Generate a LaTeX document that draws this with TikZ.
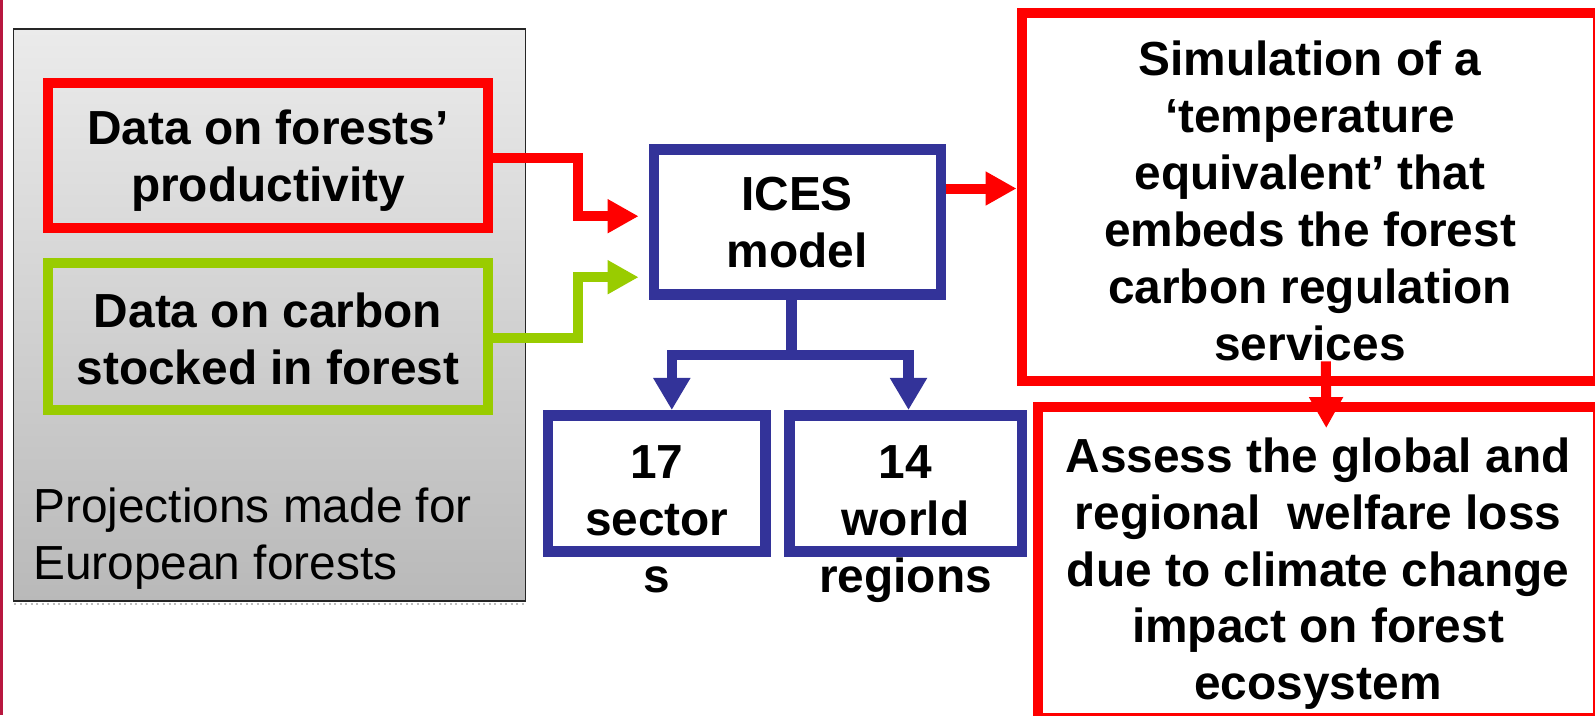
\documentclass[tikz,border=0pt]{standalone}
\usepackage{fontspec}
\setmainfont{Liberation Sans}
\usepackage{tikz}
\usetikzlibrary{arrows.meta,calc}
\definecolor{wfred}{HTML}{FF0000}
\definecolor{wfgreen}{HTML}{99CC00}
\definecolor{wfblue}{HTML}{333399}
\definecolor{wfcrimson}{HTML}{B8173F}
\definecolor{wfpanetop}{HTML}{EBEBEB}
\definecolor{wfpanebot}{HTML}{B9B9B9}
\tikzset{
  box/.style      ={rectangle, line width=1mm, inner sep=0pt},
  redbox/.style   ={box, draw=wfred},
  greenbox/.style ={box, draw=wfgreen},
  bluebox/.style  ={box, draw=wfblue, line width=1.05mm, fill=white},
  pane/.style     ={rectangle, inner sep=0pt, draw=black!85, line width=0.4pt,
                    top color=wfpanetop, bottom color=wfpanebot},
  boldtxt/.style  ={font=\fontsize{13.6}{16.2}\selectfont\bfseries, align=center,
                    inner sep=0pt, anchor=north},
  plaintxt/.style ={font=\fontsize{13.6}{16.2}\selectfont, align=left,
                    inner sep=0pt, anchor=north west},
  redlink/.style  ={draw=wfred, line width=1mm, -{Triangle[length=3.1mm, width=3.2mm]}},
  greenlink/.style={draw=wfgreen, line width=1mm, -{Triangle[length=3.1mm, width=3.2mm]}},
  bluelink/.style ={draw=wfblue, line width=1.05mm, -{Triangle[length=3.2mm, width=3.5mm]}},
}

\begin{document}
\begin{tikzpicture}[x=0.01cm, y=-0.01cm]
  \useasboundingbox (0,0) rectangle (1595,715);
  \fill[white] (0,0) rectangle (1595,715);
  \fill[wfcrimson] (0,0) rectangle (3.4,715);
  % grey panel with the two data sources
  \draw[black!25, line width=0.2mm, densely dotted] (14,604) -- (526,604);
  \node[pane, minimum width=5.12cm, minimum height=5.72cm] (proj) at (269.5,315) {};
  \node[redbox, minimum width=4.4cm, minimum height=1.45cm] (prod) at (268,155.5) {};
  \node[greenbox, minimum width=4.4cm, minimum height=1.46cm] (carb) at (268,336.5) {};
  \node[boldtxt] (prodtxt) at (268,109.5) {Data on forests’\\productivity};
  \node[boldtxt] (carbtxt) at (268,291.8) {Data on carbon\\stocked in forest};
  \node[plaintxt] (projtxt) at (32.5,487) {Projections made for\\European forests};
  % model and its dimensions
  \node[bluebox, minimum width=2.867cm, minimum height=1.45cm] (ices) at (797.3,222.2) {};
  \node[bluebox, minimum width=2.177cm, minimum height=1.36cm] (sect) at (656.8,483.3) {};
  \node[bluebox, minimum width=2.324cm, minimum height=1.36cm] (regs) at (905.5,483.3) {};
  \node[boldtxt] (icestxt) at (797,176.7) {ICES\\model};
  \node[boldtxt] (secttxt) at (656.8,445) {17\\sector\\s};
  \node[boldtxt] (regstxt) at (905.5,445) {14\\world\\regions};
  % outputs
  \node[redbox, fill=white, minimum width=5.763cm, minimum height=3.68cm] (sim) at (1309.85,197.3) {};
  \node[redbox, fill=white, minimum width=5.595cm, minimum height=3.108cm] (assess) at (1318.25,562.6) {};
  \node[boldtxt] (simtxt) at (1310,40) {Simulation of a\\‘temperature\\equivalent’ that\\embeds the forest\\carbon regulation\\services};
  \node[boldtxt] (asstxt) at (1318,436.7) {Assess the global and\\regional\ \ welfare loss\\due to climate change\\impact on forest\\ecosystem};
  % connectors
  \draw[redlink] ($(prod.east)+(0,2.5)$) -- ++(85,0) |- ($(ices.west)+(-10,-6)$);
  \draw[greenlink] ($(carb.east)+(0,1.5)$) -- ++(85,0) |- ($(ices.west)+(-10,55)$);
  \draw[bluelink] ($(ices.south)+(-6,0)$) -- ++(0,55) coordinate (fork) -| ($(sect.north)+(15,0)$);
  \draw[bluelink] (fork) -| ($(regs.north)+(3,0)$);
  \coordinate (iceout) at ($(ices.east)+(0,-33.7)$);
  \draw[redlink] (iceout) -- (iceout -| sim.west);
  \draw[redlink] ($(sim.south)+(16,-25)$) -- ($(assess.north)+(8,26)$);
\end{tikzpicture}
\end{document}
